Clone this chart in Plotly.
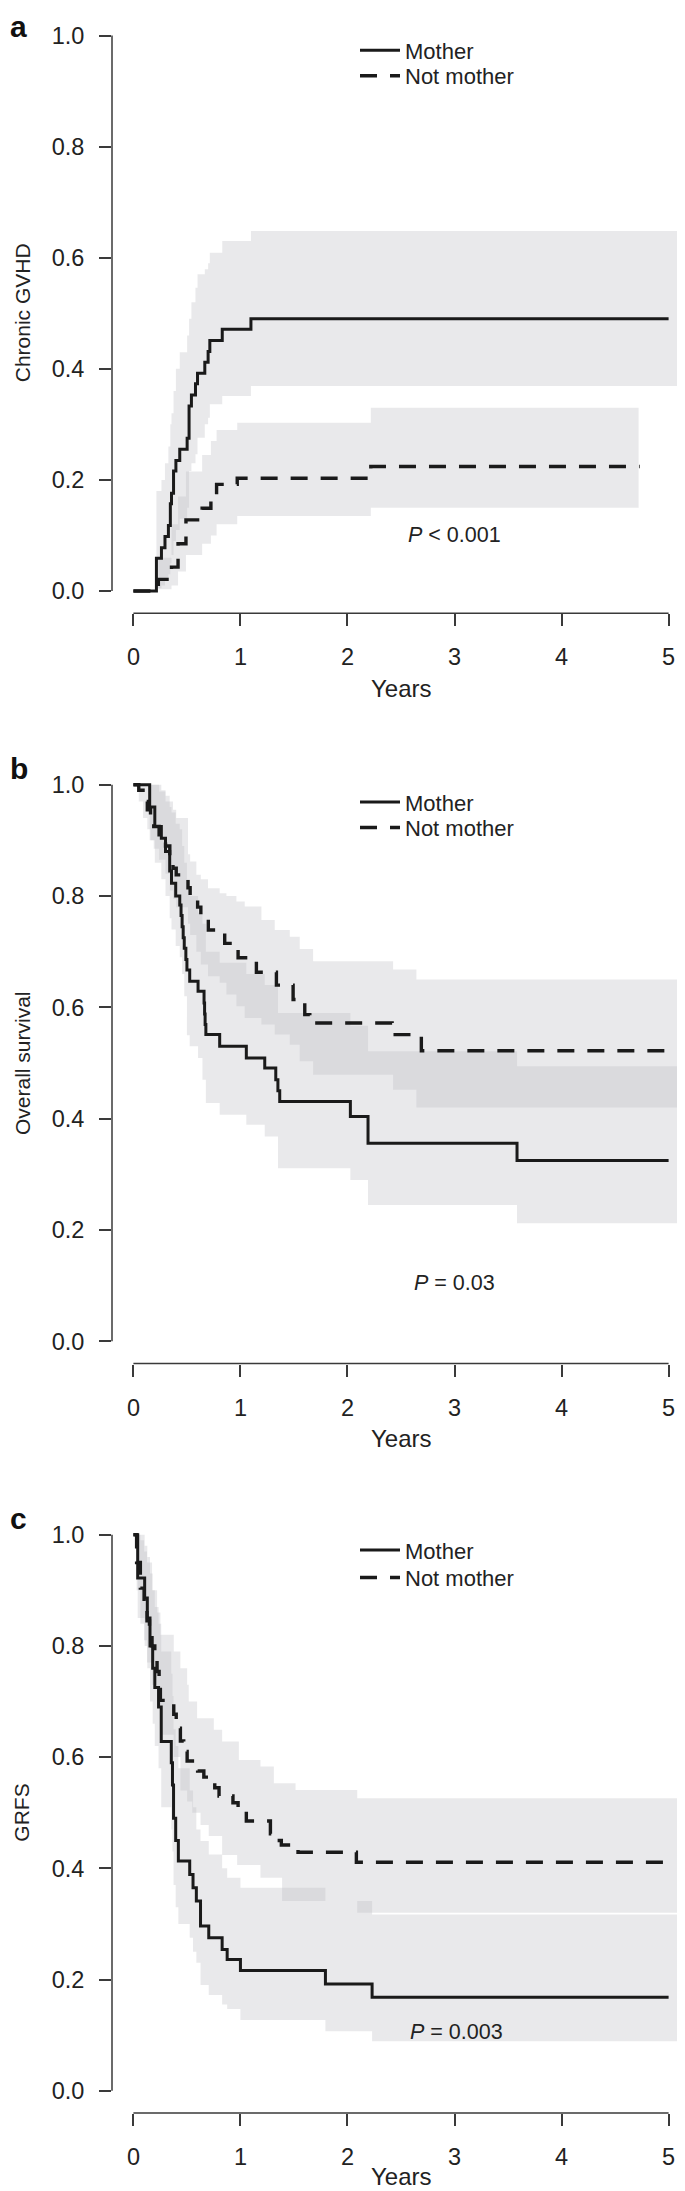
import plotly.graph_objects as go

W, H = 685, 2191
FONT = "Liberation Sans, Arial, Helvetica, sans-serif"
INK = "#1a1a1a"
AXC = "#3a3a3a"
TXT = "#222222"
BAND = "rgba(186,188,194,0.32)"

# ---------------- data ----------------
year_ticks = [0, 1, 2, 3, 4, 5]
prob_ticks = [0.0, 0.2, 0.4, 0.6, 0.8, 1.0]
prob_ticktext = ["0.0", "0.2", "0.4", "0.6", "0.8", "1.0"]
group_names = ["Mother", "Not mother"]
panel_letters = ["a", "b", "c"]
y_titles = ["Chronic GVHD", "Overall survival", "GRFS"]
p_texts = ["<i>P</i> &lt; 0.001", "<i>P</i> = 0.03", "<i>P</i> = 0.003"]
p_pos = [(3.0, 0.10), (3.0, 0.105), (3.02, 0.105)]

# Panel a: chronic GVHD (cumulative incidence)
a_mother_t = [0, 0.215, 0.262, 0.295, 0.327, 0.345, 0.356, 0.375, 0.397, 0.433, 0.502, 0.52,
              0.542, 0.580, 0.599, 0.667, 0.698, 0.714, 0.830, 1.098, 5.0]
a_mother_s = [0, 0.059, 0.078, 0.098, 0.118, 0.157, 0.176, 0.216, 0.235, 0.255, 0.275, 0.333,
              0.353, 0.373, 0.392, 0.412, 0.431, 0.451, 0.471, 0.490, 0.490]
a_mother_band_t = [0, 0.215, 0.262, 0.295, 0.327, 0.345, 0.356, 0.375, 0.397, 0.433, 0.502, 0.52,
                   0.542, 0.580, 0.599, 0.667, 0.698, 0.714, 0.830, 1.098, 5.2]
a_mother_lo = [0, 0.005, 0.01, 0.02, 0.03, 0.05, 0.065, 0.09, 0.11, 0.13, 0.15, 0.216,
               0.23, 0.246, 0.276, 0.30, 0.312, 0.336, 0.351, 0.369, 0.369]
a_mother_hi = [0, 0.18, 0.20, 0.23, 0.26, 0.30, 0.32, 0.36, 0.40, 0.43, 0.46, 0.49,
               0.52, 0.546, 0.570, 0.579, 0.59, 0.609, 0.630, 0.648, 0.648]

a_nm_t = [0, 0.233, 0.356, 0.417, 0.491, 0.642, 0.724, 0.777, 0.97, 2.218, 4.73]
a_nm_s = [0, 0.021, 0.043, 0.085, 0.128, 0.149, 0.165, 0.192, 0.203, 0.224, 0.224]
a_nm_band_t = [0, 0.233, 0.356, 0.417, 0.491, 0.642, 0.724, 0.777, 0.97, 2.218, 4.72]
a_nm_lo = [0, 0.003, 0.01, 0.035, 0.065, 0.085, 0.10, 0.12, 0.135, 0.15, 0.15]
a_nm_hi = [0, 0.06, 0.12, 0.17, 0.215, 0.245, 0.27, 0.29, 0.303, 0.33, 0.33]

# Panel b: overall survival
b_mother_t = [0, 0.152, 0.20, 0.261, 0.30, 0.339, 0.356, 0.395, 0.433, 0.445, 0.455, 0.465, 0.475,
              0.49, 0.50, 0.526, 0.604, 0.66, 0.665, 0.67, 0.677, 0.806, 1.055, 1.227, 1.33, 1.35,
              1.367, 2.027, 2.192, 3.584, 5.0]
b_mother_s = [1.0, 0.96, 0.925, 0.904, 0.88, 0.845, 0.823, 0.80, 0.784, 0.765, 0.745, 0.725, 0.706,
              0.686, 0.667, 0.647, 0.629, 0.608, 0.588, 0.569, 0.551, 0.530, 0.509, 0.491, 0.47, 0.45,
              0.431, 0.404, 0.356, 0.325, 0.325]
b_mother_band_t = [0, 0.152, 0.20, 0.261, 0.30, 0.339, 0.356, 0.395, 0.433, 0.455, 0.475, 0.50,
                   0.526, 0.604, 0.645, 0.677, 0.806, 1.055, 1.227, 1.351, 2.027, 2.192, 3.584, 5.2]
b_mother_lo = [1.0, 0.90, 0.86, 0.83, 0.80, 0.76, 0.74, 0.71, 0.69, 0.66, 0.62, 0.55,
               0.53, 0.509, 0.47, 0.428, 0.407, 0.389, 0.368, 0.311, 0.290, 0.245, 0.212, 0.212]
b_mother_hi = [1.0, 1.0, 1.0, 0.99, 0.98, 0.96, 0.95, 0.93, 0.92, 0.89, 0.86, 0.83,
               0.80, 0.77, 0.75, 0.70, 0.68, 0.66, 0.64, 0.59, 0.567, 0.521, 0.494, 0.494]

b_nm_t = [0, 0.05, 0.09, 0.13, 0.16, 0.19, 0.24, 0.30, 0.34, 0.37, 0.40, 0.51, 0.53, 0.60, 0.63,
          0.70, 0.853, 0.978, 1.149, 1.336, 1.492, 1.601, 1.648, 2.417, 2.69, 5.0]
b_nm_s = [1.0, 0.99, 0.97, 0.955, 0.94, 0.925, 0.91, 0.89, 0.865, 0.85, 0.838, 0.815, 0.80, 0.78,
          0.76, 0.739, 0.715, 0.689, 0.663, 0.640, 0.614, 0.587, 0.572, 0.551, 0.522, 0.522]
b_nm_band_t = [0, 0.05, 0.09, 0.13, 0.16, 0.19, 0.24, 0.30, 0.34, 0.37, 0.40, 0.51, 0.53, 0.588,
               0.63, 0.697, 0.806, 0.869, 0.962, 1.040, 1.196, 1.320, 1.461, 1.554, 1.679, 2.426,
               2.644, 5.2]
b_nm_lo = [1.0, 0.97, 0.94, 0.92, 0.90, 0.885, 0.865, 0.84, 0.81, 0.795, 0.78, 0.75, 0.73, 0.70,
           0.677, 0.656, 0.644, 0.623, 0.602, 0.581, 0.569, 0.551, 0.533, 0.503, 0.479, 0.452,
           0.420, 0.420]
b_nm_hi = [1.0, 1.0, 1.0, 1.0, 1.0, 1.0, 0.988, 0.97, 0.97, 0.955, 0.94, 0.875, 0.862, 0.838,
           0.83, 0.814, 0.805, 0.80, 0.79, 0.781, 0.757, 0.739, 0.727, 0.705, 0.683, 0.668,
           0.650, 0.650]

# Panel c: GRFS
c_mother_t = [0, 0.04, 0.105, 0.13, 0.155, 0.18, 0.20, 0.235, 0.26, 0.354, 0.365, 0.375, 0.395,
              0.42, 0.526, 0.557, 0.588, 0.627, 0.704, 0.829, 0.876, 1.0, 1.794, 2.23, 5.0]
c_mother_s = [1.0, 0.922, 0.886, 0.85, 0.80, 0.76, 0.725, 0.69, 0.628, 0.59, 0.55, 0.49, 0.45,
              0.413, 0.389, 0.365, 0.341, 0.296, 0.275, 0.254, 0.236, 0.216, 0.192, 0.168, 0.168]
c_mother_band_t = [0, 0.04, 0.105, 0.13, 0.155, 0.18, 0.20, 0.235, 0.26, 0.354, 0.365, 0.375,
                   0.395, 0.42, 0.526, 0.557, 0.588, 0.627, 0.704, 0.829, 0.876, 1.0, 1.794,
                   2.23, 5.2]
c_mother_lo = [1.0, 0.85, 0.80, 0.76, 0.70, 0.66, 0.62, 0.58, 0.51, 0.47, 0.43, 0.37, 0.33,
               0.30, 0.275, 0.25, 0.23, 0.19, 0.172, 0.155, 0.147, 0.127, 0.107, 0.089, 0.089]
c_mother_hi = [1.0, 1.0, 0.98, 0.96, 0.93, 0.90, 0.87, 0.84, 0.79, 0.75, 0.71, 0.65, 0.62,
               0.58, 0.54, 0.51, 0.47, 0.449, 0.425, 0.40, 0.383, 0.365, 0.341, 0.317, 0.317]

c_nm_t = [0, 0.03, 0.065, 0.10, 0.127, 0.15, 0.174, 0.20, 0.221, 0.24, 0.252, 0.377, 0.40, 0.439,
          0.47, 0.502, 0.60, 0.658, 0.76, 0.80, 0.93, 0.978, 1.055, 1.28, 1.314, 1.382, 1.538,
          2.083, 5.0]
c_nm_s = [1.0, 0.95, 0.904, 0.88, 0.845, 0.83, 0.80, 0.775, 0.754, 0.73, 0.702, 0.677, 0.652,
          0.629, 0.61, 0.593, 0.575, 0.564, 0.545, 0.53, 0.518, 0.505, 0.485, 0.462, 0.45, 0.442,
          0.429, 0.411, 0.411]
c_nm_band_t = [0, 0.03, 0.065, 0.10, 0.127, 0.174, 0.221, 0.252, 0.377, 0.439, 0.502, 0.517,
               0.55, 0.595, 0.627, 0.704, 0.751, 0.829, 0.969, 0.985, 1.187, 1.312, 1.389,
               1.515, 2.091, 5.2]
c_nm_lo = [1.0, 0.90, 0.84, 0.81, 0.77, 0.73, 0.69, 0.64, 0.60, 0.54, 0.52, 0.52, 0.50, 0.50,
           0.478, 0.458, 0.458, 0.424, 0.406, 0.406, 0.383, 0.383, 0.341, 0.341, 0.320, 0.320]
c_nm_hi = [1.0, 1.0, 0.99, 0.97, 0.95, 0.90, 0.86, 0.82, 0.79, 0.76, 0.73, 0.70, 0.70, 0.67,
           0.67, 0.67, 0.649, 0.628, 0.628, 0.595, 0.583, 0.553, 0.553, 0.541, 0.526, 0.526]

panel_data = [
    dict(mother=(a_mother_t, a_mother_s, a_mother_band_t, a_mother_lo, a_mother_hi),
         nm=(a_nm_t, a_nm_s, a_nm_band_t, a_nm_lo, a_nm_hi)),
    dict(mother=(b_mother_t, b_mother_s, b_mother_band_t, b_mother_lo, b_mother_hi),
         nm=(b_nm_t, b_nm_s, b_nm_band_t, b_nm_lo, b_nm_hi)),
    dict(mother=(c_mother_t, c_mother_s, c_mother_band_t, c_mother_lo, c_mother_hi),
         nm=(c_nm_t, c_nm_s, c_nm_band_t, c_nm_lo, c_nm_hi)),
]

# ---------------- layout geometry (pixels) ----------------
PLOT_LEFT, PLOT_RIGHT = 104, 682
TOP_TICK = [27.5, 776.7, 1526.7]      # pixel row of value 1.0 in each panel
UNIT = [555.5, 556.6, 556.0]          # pixels per 1.0
LEG_ROWS = [(15, 40.5), (17.5, 43), (15.5, 43)]   # legend box centres below the 1.0 tick
X_RANGE = [-0.2, 5.2]
Y_RANGE = [-0.04, 1.04]
ASC, DESC = 0.905, 0.212            # font ascent / descent (em)

def py(p):
    return 1 - p / H

fig = go.Figure()
layout = dict(
    width=W, height=H, margin=dict(l=0, r=0, t=0, b=0),
    paper_bgcolor="white", plot_bgcolor="white",
    font=dict(family=FONT, color=TXT),
    shapes=[], annotations=[],
)

for i in range(3):
    sfx = "" if i == 0 else str(i + 1)
    xa, ya = "x" + sfx, "y" + sfx
    top = TOP_TICK[i] - (Y_RANGE[1] - 1) * UNIT[i]
    bot = TOP_TICK[i] + (1 - Y_RANGE[0]) * UNIT[i]
    zero_px = TOP_TICK[i] + UNIT[i]
    layout["xaxis" + sfx] = dict(
        domain=[PLOT_LEFT / W, PLOT_RIGHT / W], range=X_RANGE, anchor=ya,
        showgrid=False, zeroline=False, showline=False,
        tickvals=year_ticks, ticktext=[str(v) for v in year_ticks],
        ticks="outside", ticklen=12, tickwidth=1.5, tickcolor=AXC,
        tickfont=dict(size=23.5, family=FONT, color=TXT), ticklabelstandoff=11,
        fixedrange=True,
    )
    layout["yaxis" + sfx] = dict(
        domain=[py(bot), py(top)], range=Y_RANGE, anchor=xa,
        showgrid=False, zeroline=False, showline=False,
        tickvals=prob_ticks, ticktext=prob_ticktext,
        ticks="outside", ticklen=12, tickwidth=1.5, tickcolor=AXC,
        tickfont=dict(size=23.5, family=FONT, color=TXT), ticklabelstandoff=10,
        fixedrange=True,
    )
    # R-style axis lines spanning the first to last tick
    layout["shapes"].append(dict(type="line", xref=xa, yref=ya + " domain",
                                 x0=year_ticks[0], x1=year_ticks[-1], y0=0, y1=0,
                                 line=dict(color=AXC, width=1.5)))
    layout["shapes"].append(dict(type="line", xref=xa + " domain", yref=ya,
                                 x0=0, x1=0, y0=prob_ticks[0], y1=prob_ticks[-1],
                                 line=dict(color=AXC, width=1.5)))

    d = panel_data[i]
    # confidence bands
    for key in ("mother", "nm"):
        t, s, bt, lo, hi = d[key]
        fig.add_trace(go.Scatter(x=bt, y=hi, mode="lines", line=dict(width=0, shape="hv"),
                                 showlegend=False, hoverinfo="skip", xaxis=xa, yaxis=ya))
        fig.add_trace(go.Scatter(x=bt, y=lo, mode="lines", line=dict(width=0, shape="hv"),
                                 fill="tonexty", fillcolor=BAND,
                                 showlegend=False, hoverinfo="skip", xaxis=xa, yaxis=ya))
    # curves, each with its own legend box so rows sit where the reference has them
    leg_m = "legend" if i == 0 else "legend" + str(2 * i + 1)
    leg_n = "legend" + str(2 * i + 2)
    t, s = d["mother"][0], d["mother"][1]
    fig.add_trace(go.Scatter(x=t, y=s, mode="lines", name=group_names[0],
                             line=dict(color=INK, width=3, shape="hv"),
                             xaxis=xa, yaxis=ya, legend=leg_m))
    t, s = d["nm"][0], d["nm"][1]
    fig.add_trace(go.Scatter(x=t, y=s, mode="lines", name=group_names[1],
                             line=dict(color=INK, width=3.4, shape="hv", dash="17px,13px"),
                             xaxis=xa, yaxis=ya, legend=leg_n))
    for leg, off in ((leg_m, LEG_ROWS[i][0]), (leg_n, LEG_ROWS[i][1])):
        layout[leg] = dict(
            x=347 / W, xanchor="left", y=py(TOP_TICK[i] + off), yanchor="middle",
            bgcolor="rgba(0,0,0,0)", borderwidth=0, itemwidth=40,
            font=dict(size=22, family=FONT, color=TXT),
        )

    # panel letter (baseline ~7 px above the 1.0 tick, kept inside the page)
    fs_l = 30
    top_l = max(0.0, TOP_TICK[i] - 7 - ASC * fs_l - 1)
    layout["annotations"].append(dict(
        text="<b>" + panel_letters[i] + "</b>", xref="paper", yref="paper",
        x=0, y=py(top_l), xanchor="left", yanchor="top",
        showarrow=False, font=dict(size=fs_l, family=FONT, color="#111111")))
    # y-axis title (rotated; centre kept far enough from the left edge)
    layout["annotations"].append(dict(
        text=y_titles[i], xref="paper", yref=ya + " domain", x=14 / W, y=0.5,
        xanchor="center", yanchor="middle", textangle=-90, showarrow=False,
        font=dict(size=21, family=FONT, color=TXT)))
    # x-axis title (baseline ~107 px below the 0.0 tick, kept inside the page)
    fs_y = 24
    base = min(zero_px + 107, H - 13)
    layout["annotations"].append(dict(
        text="Years", xref=xa + " domain", yref="paper", x=0.5,
        y=py(base + DESC * fs_y + 1), xanchor="center", yanchor="bottom",
        showarrow=False, font=dict(size=fs_y, family=FONT, color=TXT)))
    # P value
    layout["annotations"].append(dict(
        text=p_texts[i], xref=xa, yref=ya, x=p_pos[i][0], y=p_pos[i][1],
        xanchor="center", yanchor="middle", showarrow=False,
        font=dict(size=21.5, family=FONT, color=TXT)))

fig.update_layout(**layout)
fig.write_html("out.html")
